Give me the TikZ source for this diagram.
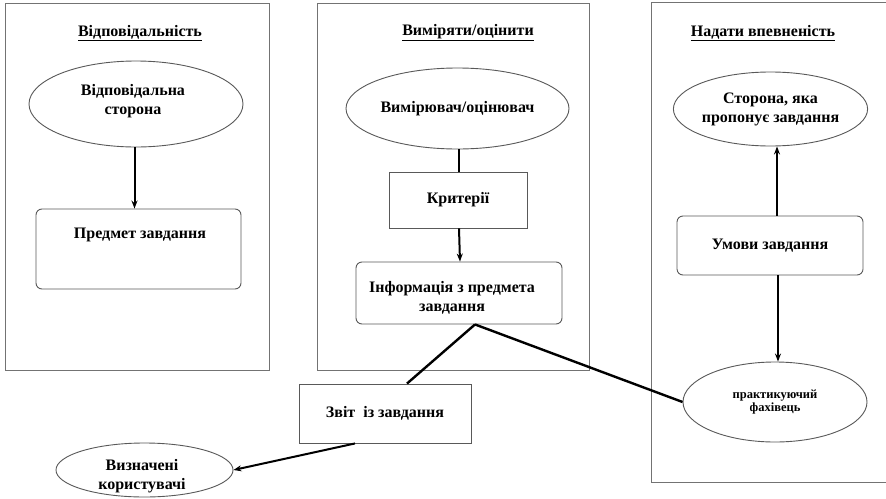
\documentclass[tikz,border=0pt]{standalone}
\usepackage{fontspec}
\setmainfont{Liberation Serif}
\usetikzlibrary{shapes.geometric,arrows.meta}
\begin{document}
\begin{tikzpicture}[x=1pt,y=-1pt,
  bf/.style={font=\fontsize{16}{19}\selectfont\bfseries},
  panel/.style={draw=black!55, line width=1pt, inner sep=0pt},
  ttl/.style={bf, inner sep=0pt},
  oval/.style={ellipse, draw=black!65, line width=0.9pt, inner sep=0pt, align=center, bf},
  sqbox/.style={rectangle, draw=black!65, line width=0.9pt, inner sep=0pt, align=center, bf},
  rbox/.style={sqbox, rounded corners=6pt},
  arr/.style={draw=black, line width=2pt, -{Stealth[length=8pt,width=6pt]}},
  conn/.style={draw=black, line width=2pt},
  diag/.style={draw=black, line width=2.4pt}]
\useasboundingbox (0,0) rectangle (886,498);
\fill[white] (0,0) rectangle (886,498);
\begin{scope}
\clip (0,0) rectangle (886,498);
% panels
\node[panel, minimum width=264pt, minimum height=367pt] (pL) at (137,186.5) {};
\node[panel, minimum width=272pt, minimum height=367pt] (pM) at (453,186.5) {};
\node[panel, minimum width=240pt, minimum height=480pt] (pR) at (771,242) {};
\end{scope}
% titles
\node[ttl] (tL) at (140,33) {\underline{Відповідальність}};
\node[ttl] (tM) at (468,33) {\underline{Виміряти/оцінити}};
\node[ttl] (tR) at (763,33) {\underline{Надати впевненість}};
% left column
\node[oval, minimum width=214pt, minimum height=86pt] (resp) at (136,104) {};
\node[bf, align=center, inner sep=0pt] (respT) at (133,101) {Відповідальна\\сторона};
\node[rbox, minimum width=205pt, minimum height=80pt] (subj) at (138.5,249) {};
\node[bf, inner sep=0pt] (subjT) at (140,235) {Предмет завдання};
% middle column
\node[oval, minimum width=223pt, minimum height=81pt] (meas) at (457.5,108.5) {Вимірювач/оцінювач};
\node[sqbox, minimum width=138pt, minimum height=56pt] (crit) at (458,200) {Критерії};
\node[rbox, minimum width=206pt, minimum height=62pt] (info) at (459,293) {};
\node[bf, align=center, inner sep=0pt] (infoT) at (452,298) {Інформація з предмета\\завдання};
% right column
\node[oval, minimum width=193pt, minimum height=74pt] (prop) at (770.5,109) {Сторона, яка\\пропонує завдання};
\node[rbox, minimum width=186pt, minimum height=59pt] (cond) at (770,245.5) {Умови завдання};
\node[oval, minimum width=184pt, minimum height=80pt, font=\fontsize{12.5}{13}\selectfont\bfseries] (prac) at (775,402) {практикуючий\\фахівець};
% bottom
\node[sqbox, minimum width=172pt, minimum height=59pt] (rep) at (385,413.5) {Звіт~ із завдання};
\node[oval, minimum width=177pt, minimum height=54pt] (users) at (144.5,470) {};
\node[bf, align=center, inner sep=0pt] (usersT) at (142,476) {Визначені\\користувачі};
% helper points
\coordinate (j) at ([xshift=16pt]info.south);
\coordinate (rt) at ([xshift=22pt]rep.north);
\coordinate (rb) at ([xshift=-30pt]rep.south);
\coordinate (ct) at ([xshift=7pt]cond.north);
\coordinate (cb) at ([xshift=8pt]cond.south);
\coordinate (ls) at ([xshift=-4pt]subj.north);
\coordinate (mc) at ([xshift=1pt]crit.north);
% connectors
\draw[arr] (ls |- resp.south) -- (ls);
\draw[conn] (mc |- meas.south) -- (mc);
\draw[arr] ([xshift=1pt]crit.south) -- ([xshift=1pt]info.north);
\draw[arr] (ct) -- (ct |- prop.south);
\draw[arr] (cb) -- (cb |- prac.north);
\draw[diag] (j) -- (rt);
\draw[diag] (j) -- (prac.west);
\draw[arr] (rb) -- (users.east);
\end{tikzpicture}
\end{document}
